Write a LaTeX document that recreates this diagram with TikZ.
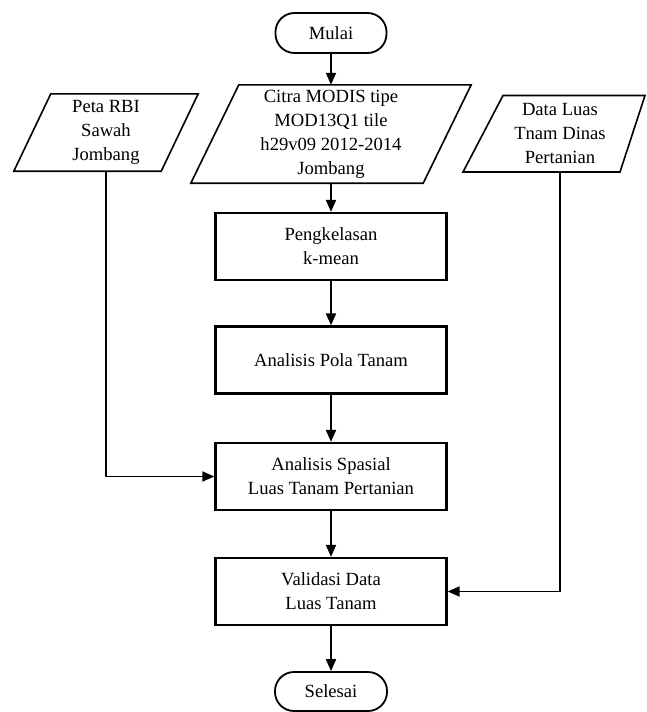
\documentclass[tikz,border=0pt]{standalone}
\usepackage{fontspec}
\setmainfont{Liberation Serif}
\usetikzlibrary{arrows.meta}
\begin{document}
\begin{tikzpicture}[x=1pt,y=-1pt,
  every node/.style={font=\fontsize{18.6}{24}\selectfont, align=center, inner sep=0pt},
  term/.style={draw, line width=1.8pt, rounded corners=19pt, minimum width=111pt, minimum height=40pt},
  procbox/.style={draw, line width=2.3pt, minimum width=231pt, minimum height=67pt},
  edge/.style={line width=1.9pt},
  arr/.style={edge, -{Triangle[length=12pt,width=10pt]}},
  paraline/.style={line width=1.6pt, line join=miter}]
\useasboundingbox (0,0) rectangle (646,712);
\fill[white] (0,0) rectangle (646,712);

% terminals
\node[term] (mulai) at (331,33) {Mulai};
\node[term, minimum width=112pt, minimum height=39pt] (selesai) at (331,691.5) {Selesai};

% input / data nodes (parallelograms)
\node[minimum width=232pt, minimum height=98pt] (citra) at (331,134)
  {Citra MODIS tipe\\MOD13Q1 tile\\h29v09 2012-2014\\Jombang};
\draw[paraline] ([xshift=-24pt]citra.south west) -- ([xshift=-24pt]citra.south east)
  -- ([xshift=24pt]citra.north east) -- ([xshift=24pt]citra.north west) -- cycle;

\node[minimum width=147pt, minimum height=77pt] (rbi) at (106,132.5)
  {Peta RBI\\Sawah\\Jombang};
\draw[paraline] ([xshift=-18.5pt]rbi.south west) -- ([xshift=-18.5pt]rbi.south east)
  -- ([xshift=18.5pt]rbi.north east) -- ([xshift=18.5pt]rbi.north west) -- cycle;

\node[minimum width=150pt, minimum height=77pt] (dinas) at (560,133.5)
  {Data Luas\\Tnam Dinas\\Pertanian};
\draw[paraline] (463,172) -- (620,172) -- (645,95.5) -- (503,95.5) -- cycle;

% process boxes
\node[procbox] (kelas) at (331,246.5) {Pengkelasan\\k-mean};
\node[procbox] (pola) at (331,360) {Analisis Pola Tanam};
\node[procbox] (spasial) at (331,476.5) {Analisis Spasial\\Luas Tanam Pertanian};
\node[procbox] (valid) at (331,591.5) {Validasi Data\\Luas Tanam};

% connectors
\draw[arr] (mulai.south) -- (citra.north);
\draw[arr] (citra.south) -- (kelas.north);
\draw[arr] (kelas.south) -- (pola.north);
\draw[arr] (pola.south) -- (spasial.north);
\draw[arr] (spasial.south) -- (valid.north);
\draw[arr] (valid.south) -- (selesai.north);
\draw[arr] (rbi.south) |- (spasial.west);
\draw[arr] (dinas.south) |- (valid.east);
\end{tikzpicture}
\end{document}
